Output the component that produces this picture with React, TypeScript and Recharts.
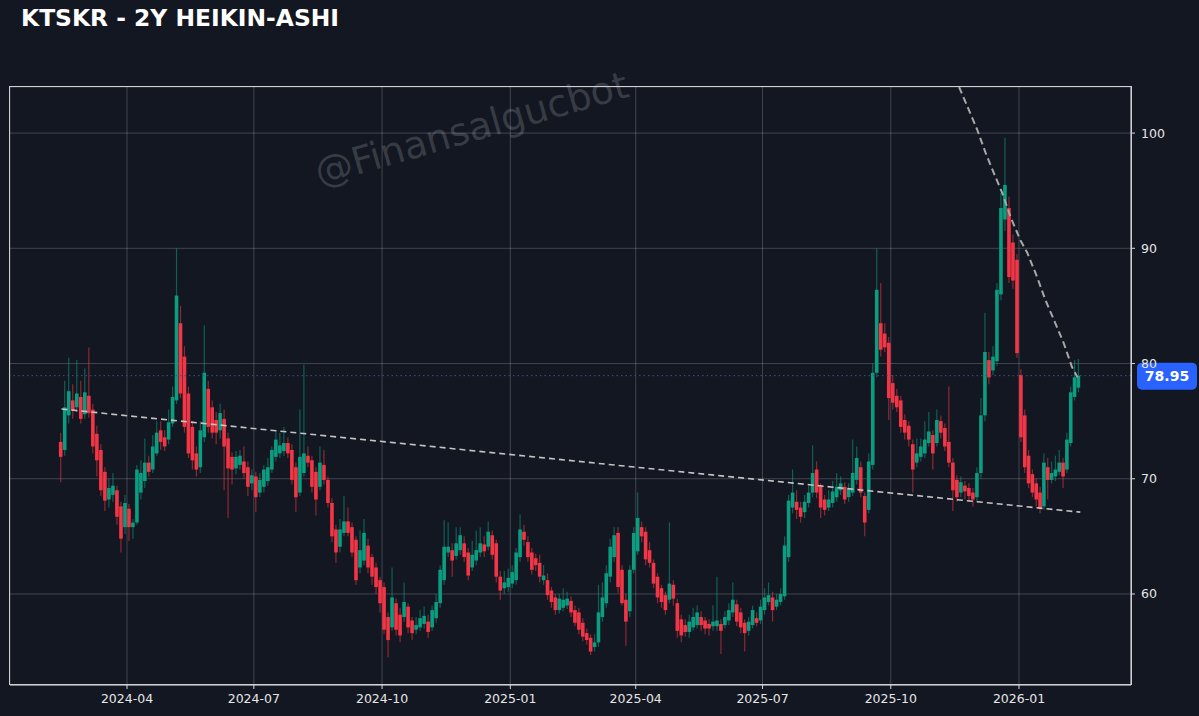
import React from "react";
import { ComposedChart, Bar, Line, XAxis, YAxis, CartesianGrid, ReferenceLine } from "recharts";

const BG = "#131722";
const UP = "#0b9d80";
const DOWN = "#f23645";

// Heikin-Ashi candles [open, high, low, close], one list per quarter
const q1_2024 = [
  [73.2, 74.0, 69.7, 71.9], [72.5, 78.5, 72.0, 76.2], [75.5, 80.5, 74.8, 77.6], [76.8, 78.2, 75.2, 75.9],
  [76.2, 80.3, 75.8, 77.4], [77.1, 78.5, 74.8, 75.2], [75.6, 79.6, 75.2, 77.5], [77.2, 81.4, 75.3, 75.7],
  [76.0, 76.5, 72.2, 72.8], [73.9, 74.6, 70.2, 71.6], [72.5, 73.0, 68.5, 69.0], [70.6, 71.0, 67.2, 68.1],
  [68.2, 70.0, 67.5, 69.2], [68.6, 70.5, 68.0, 69.4], [69.0, 69.4, 66.0, 66.7], [67.6, 68.0, 63.6, 64.8],
  [65.8, 68.6, 65.2, 67.9],
];
const q2_2024 = [
  [67.4, 67.8, 64.6, 65.8], [65.8, 66.5, 64.8, 66.2], [66.2, 71.2, 66.0, 70.8], [68.8, 71.6, 68.2, 70.5],
  [69.8, 73.5, 69.2, 71.4], [71.4, 72.0, 70.2, 70.6], [70.8, 73.8, 70.5, 72.8], [72.2, 75.0, 72.0, 74.0],
  [74.2, 75.0, 72.5, 73.2], [73.6, 74.2, 72.4, 72.8], [73.4, 76.0, 73.0, 74.9], [74.8, 78.0, 74.5, 77.1],
  [76.8, 90.0, 76.5, 85.9], [83.5, 85.0, 77.0, 77.4], [80.6, 81.5, 74.0, 74.5], [77.4, 78.0, 71.8, 72.2],
  [74.5, 75.0, 70.8, 71.6], [72.2, 72.8, 70.2, 70.8], [71.0, 75.0, 70.5, 74.2], [73.6, 83.3, 73.2, 79.2],
  [77.8, 78.5, 74.0, 74.5], [76.2, 76.8, 73.5, 74.0], [75.1, 75.8, 73.0, 74.0], [74.2, 76.5, 73.5, 75.7],
  [75.2, 76.0, 69.0, 72.8], [73.5, 74.0, 66.6, 70.9], [71.9, 72.3, 69.5, 70.8], [70.9, 72.4, 70.4, 71.9],
  [71.2, 72.5, 70.8, 72.0], [71.5, 72.8, 70.0, 70.5], [71.0, 71.5, 68.5, 69.3], [69.6, 70.8, 69.0, 70.3],
];
const q3_2024 = [
  [70.2, 70.6, 67.1, 68.4], [68.8, 70.5, 68.4, 69.9], [69.3, 71.2, 68.8, 70.8], [69.8, 71.8, 69.4, 71.0],
  [70.8, 72.8, 70.5, 72.5], [71.9, 74.2, 71.5, 73.4], [72.2, 74.0, 71.8, 72.9], [72.4, 74.5, 72.0, 73.1],
  [73.1, 73.6, 71.8, 72.2], [72.5, 73.0, 69.5, 69.9], [71.0, 71.4, 67.1, 68.4], [68.8, 76.0, 68.5, 71.9],
  [70.5, 79.9, 70.2, 72.2], [72.0, 72.8, 71.0, 71.4], [71.6, 72.0, 68.8, 69.3], [70.6, 71.0, 66.8, 68.2],
  [69.3, 72.8, 69.0, 71.4], [71.2, 72.5, 69.5, 69.9], [69.9, 70.2, 67.5, 67.9], [67.9, 68.3, 64.5, 65.0],
  [65.6, 66.0, 62.7, 63.6], [64.1, 66.5, 63.6, 65.6], [65.3, 68.5, 65.0, 66.3], [66.3, 67.5, 65.0, 65.3],
  [65.8, 66.2, 63.2, 63.6], [64.7, 65.0, 60.8, 61.2], [62.3, 65.5, 61.8, 63.8], [62.9, 66.5, 62.5, 65.3],
  [64.2, 64.8, 61.8, 62.3], [63.2, 63.5, 60.8, 61.5], [62.3, 62.7, 60.0, 60.6], [61.2, 61.5, 58.4, 59.2],
];
const q4_2024 = [
  [60.6, 61.0, 56.5, 56.9], [58.0, 58.4, 54.5, 56.0], [57.1, 62.3, 56.8, 59.7], [59.2, 59.6, 56.4, 56.9],
  [58.2, 58.8, 55.8, 56.4], [58.0, 61.0, 57.6, 59.3], [58.9, 59.2, 56.6, 57.1], [57.7, 58.0, 56.0, 56.6],
  [56.9, 58.0, 56.5, 57.3], [57.1, 58.6, 56.8, 57.9], [57.4, 58.9, 57.0, 58.1], [57.6, 58.2, 56.2, 56.7],
  [57.1, 59.0, 56.8, 58.6], [57.9, 60.0, 57.5, 59.3], [59.2, 62.5, 58.8, 62.1], [61.2, 66.4, 60.8, 64.1],
  [63.6, 66.2, 63.2, 64.1], [63.8, 64.4, 61.5, 62.9], [63.3, 65.8, 63.0, 64.4], [63.8, 65.8, 63.4, 65.1],
  [64.4, 65.0, 62.8, 63.2], [63.6, 64.0, 61.2, 61.6], [62.3, 64.6, 62.0, 63.4], [62.9, 65.5, 62.5, 63.8],
  [63.6, 65.8, 63.2, 64.4], [64.3, 65.0, 63.2, 63.7], [64.1, 66.3, 63.8, 65.4], [65.1, 65.5, 63.0, 63.4],
  [64.4, 64.7, 61.0, 61.5], [61.5, 62.0, 59.5, 60.3], [60.5, 62.0, 60.0, 61.0], [60.6, 62.2, 60.2, 61.4],
];
const q1_2025 = [
  [60.9, 62.5, 60.5, 61.9], [61.2, 64.0, 60.8, 63.6], [63.2, 66.9, 62.8, 65.6], [65.4, 66.0, 64.2, 64.7],
  [64.5, 65.0, 62.8, 63.2], [63.6, 64.0, 61.7, 62.1], [63.1, 63.5, 62.0, 62.5], [62.7, 63.4, 61.0, 61.5],
  [61.2, 62.5, 60.8, 61.6], [61.2, 61.8, 59.5, 59.9], [60.3, 60.6, 58.8, 59.3], [59.7, 60.0, 58.2, 58.6],
  [58.6, 60.0, 58.3, 59.6], [58.8, 60.5, 58.5, 59.5], [59.0, 60.2, 58.7, 59.6], [59.4, 59.8, 58.0, 58.4],
  [58.6, 59.0, 57.2, 57.5], [58.4, 58.8, 56.5, 56.9], [57.5, 57.9, 55.9, 56.3], [56.6, 57.0, 55.6, 56.0],
  [56.2, 56.5, 54.7, 55.0], [55.4, 56.5, 55.0, 55.8], [55.8, 60.8, 55.4, 58.4], [58.0, 61.0, 57.6, 59.7],
  [59.2, 62.5, 58.8, 61.8], [61.5, 64.8, 61.0, 64.1], [63.2, 65.8, 62.8, 65.1], [65.3, 65.8, 60.1, 60.6],
  [62.1, 62.5, 59.0, 59.2], [59.5, 60.0, 55.5, 57.6], [58.5, 62.5, 58.0, 62.1], [62.1, 65.8, 61.8, 65.3],
];
const q2_2025 = [
  [63.7, 68.8, 63.4, 66.6], [65.8, 66.3, 64.5, 65.0], [65.4, 65.8, 62.5, 63.0], [63.8, 64.5, 62.3, 62.7],
  [62.7, 63.0, 60.5, 60.9], [61.5, 61.8, 59.2, 59.7], [60.5, 60.8, 58.8, 59.3], [59.9, 60.2, 58.2, 58.6],
  [59.5, 66.2, 59.2, 60.9], [60.8, 61.2, 59.0, 59.6], [59.2, 59.6, 56.2, 56.8], [57.8, 58.2, 55.8, 56.4],
  [57.3, 57.8, 56.3, 56.7], [56.7, 58.2, 56.2, 57.6], [57.1, 58.8, 56.8, 58.0], [57.3, 59.0, 57.0, 58.4],
  [58.0, 58.5, 56.8, 57.3], [57.7, 58.0, 56.5, 57.0], [57.4, 57.8, 56.4, 57.0], [57.2, 59.0, 56.8, 57.6],
  [57.2, 61.5, 56.8, 57.7], [57.4, 57.8, 54.8, 56.8], [57.3, 58.5, 57.0, 58.0], [57.7, 59.2, 57.3, 58.6],
  [58.4, 61.0, 58.0, 59.5], [59.1, 59.5, 57.2, 57.6], [58.4, 58.8, 56.6, 57.1], [57.5, 57.8, 55.0, 56.6],
  [56.8, 58.0, 56.4, 57.6], [57.3, 59.0, 57.0, 58.6], [57.9, 58.4, 57.2, 57.5], [57.7, 59.5, 57.4, 58.9],
];
const q3_2025 = [
  [58.6, 60.5, 58.2, 59.7], [59.3, 61.0, 59.0, 59.9], [59.7, 60.2, 57.6, 58.6], [58.9, 60.0, 58.6, 59.5],
  [59.3, 60.5, 59.0, 60.0], [59.8, 65.0, 59.5, 64.2], [63.2, 68.6, 62.8, 68.1], [67.5, 70.8, 67.0, 68.8],
  [68.0, 69.0, 66.5, 67.3], [67.5, 68.0, 66.2, 66.7], [67.1, 68.6, 66.6, 68.0], [67.9, 69.5, 67.5, 68.8],
  [68.8, 72.9, 68.4, 70.5], [70.8, 71.5, 68.3, 68.8], [69.3, 69.6, 66.6, 67.5], [68.2, 68.6, 66.8, 67.3],
  [67.5, 69.0, 67.2, 68.2], [67.9, 69.8, 67.5, 68.9], [68.4, 70.5, 68.0, 69.3], [69.0, 70.2, 68.6, 69.6],
  [69.3, 69.7, 67.8, 68.2], [68.4, 69.6, 68.0, 69.2], [68.8, 73.4, 68.5, 70.5], [69.9, 72.8, 69.5, 71.8],
  [71.0, 71.5, 68.4, 68.8], [68.5, 68.8, 65.0, 66.2], [67.3, 72.2, 67.0, 71.5], [71.2, 80.0, 70.8, 79.2],
  [79.2, 90.0, 78.8, 86.4], [83.5, 87.0, 80.6, 81.2], [82.6, 83.5, 81.0, 81.4], [81.8, 82.3, 75.1, 77.0],
];
const q4_2025 = [
  [78.3, 79.0, 76.0, 76.6], [77.2, 77.8, 75.8, 76.2], [76.8, 77.2, 74.0, 74.5], [75.1, 75.6, 73.4, 74.0],
  [74.6, 75.0, 72.8, 73.4], [73.0, 73.4, 68.8, 70.8], [71.4, 73.5, 71.0, 72.2], [71.9, 73.5, 71.5, 72.8],
  [72.2, 75.0, 71.8, 73.4], [73.1, 75.8, 72.8, 74.1], [73.8, 74.2, 70.8, 72.2], [73.1, 76.0, 72.8, 75.1],
  [75.0, 75.5, 73.5, 74.0], [74.4, 74.8, 72.4, 72.8], [73.2, 78.0, 71.0, 71.4], [71.4, 71.8, 67.2, 69.0],
  [69.9, 70.3, 68.0, 68.4], [68.8, 70.2, 68.4, 69.7], [69.4, 69.8, 68.2, 68.9], [69.2, 69.6, 68.0, 68.5],
  [68.8, 69.2, 67.6, 68.2], [68.4, 71.0, 68.0, 70.5], [70.5, 77.0, 70.0, 75.5], [75.5, 84.4, 75.0, 81.0],
  [80.3, 81.0, 78.2, 78.8], [79.4, 81.5, 79.0, 80.6], [80.2, 87.0, 79.8, 86.4], [86.0, 94.8, 85.5, 93.5],
  [92.5, 99.6, 91.5, 95.5], [93.5, 94.5, 87.0, 87.5], [90.5, 91.2, 86.5, 87.2], [89.0, 89.5, 80.5, 80.9],
];
const q1_2026 = [
  [79.0, 79.5, 73.2, 73.6], [75.5, 76.0, 70.5, 71.0], [72.0, 72.5, 69.2, 69.6], [70.4, 70.8, 68.4, 68.8],
  [69.6, 70.0, 67.6, 68.2], [68.8, 69.3, 67.0, 67.4], [67.6, 72.2, 67.3, 71.4], [71.0, 71.8, 68.2, 69.9],
  [69.9, 71.5, 69.6, 70.5], [70.2, 72.0, 69.8, 70.8], [70.6, 72.5, 70.3, 71.4], [71.4, 71.8, 69.2, 70.2],
  [70.8, 74.0, 70.5, 73.4], [73.1, 78.0, 72.8, 77.5], [77.1, 80.3, 76.8, 78.8], [77.9, 80.4, 77.5, 78.95],
];

const segments = [
  { from: "2024-02-12", to: "2024-04-01", candles: q1_2024 },
  { from: "2024-04-01", to: "2024-07-01", candles: q2_2024 },
  { from: "2024-07-01", to: "2024-10-01", candles: q3_2024 },
  { from: "2024-10-01", to: "2025-01-01", candles: q4_2024 },
  { from: "2025-01-01", to: "2025-04-01", candles: q1_2025 },
  { from: "2025-04-01", to: "2025-07-01", candles: q2_2025 },
  { from: "2025-07-01", to: "2025-10-01", candles: q3_2025 },
  { from: "2025-10-01", to: "2026-01-01", candles: q4_2025 },
  { from: "2026-01-01", to: "2026-02-14", candles: q1_2026 },
];

const xTickLabels = ["2024-04", "2024-07", "2024-10", "2025-01", "2025-04", "2025-07", "2025-10", "2026-01"];
const yTicks = [60, 70, 80, 90, 100];
const lastPrice = 78.95;

// long support trendline
const supportDates = ["2024-02-14", "2026-02-14"];
const supportValues = [76.05, 67.1];

// steep descending resistance
const resistDates = [
  "2025-11-19", "2025-11-25", "2025-12-02", "2025-12-08", "2025-12-13", "2025-12-20", "2025-12-26",
  "2026-01-02", "2026-01-07", "2026-01-14", "2026-01-20", "2026-01-26", "2026-02-02", "2026-02-08", "2026-02-12",
];
const resistValues = [104.0, 102.3, 100.3, 98.3, 96.8, 94.8, 92.7, 90.7, 89.6, 87.5, 85.5, 83.8, 81.8, 79.7, 78.8];

const DAY = 86400000;
const ts = (s: string) => Date.parse(s.length === 7 ? s + "-01T00:00:00Z" : s + "T00:00:00Z");

const candles = segments.flatMap((seg) => {
  const a = ts(seg.from);
  const step = (ts(seg.to) - a) / seg.candles.length;
  return seg.candles.map(([o, h, l, c], k) => ({ t: a + (k + 0.5) * step, o, h, l, c, range: [l, h] }));
});

const supportData = supportDates.map((d, i) => ({ t: ts(d), v: supportValues[i] }));
const resistData = resistDates.map((d, i) => ({ t: ts(d), v: resistValues[i] }));
const xTicks = xTickLabels.map(ts);

const xMin = ts("2024-04-01") - 83.95 * DAY;
const xMax = ts("2026-01-01") + 80.36 * DAY;

const fmtMonth = (t: number) => {
  const d = new Date(t);
  return `${d.getUTCFullYear()}-${String(d.getUTCMonth() + 1).padStart(2, "0")}`;
};

const CandleShape = (props: any) => {
  const { x, y, width, height, payload } = props;
  if (!payload || x == null || y == null) return null;
  const { o, h, l, c } = payload;
  const top = Math.min(y, y + height);
  const bot = Math.max(y, y + height);
  const k = h > l ? (bot - top) / (h - l) : 0;
  const bTop = top + (h - Math.max(o, c)) * k;
  const bBot = top + (h - Math.min(o, c)) * k;
  const cx = x + width / 2;
  const col = c >= o ? UP : DOWN;
  return (
    <g>
      <line x1={cx} x2={cx} y1={top} y2={bot} stroke={col} strokeOpacity={0.55} strokeWidth={1.2} />
      <rect x={cx - 1.8} y={bTop} width={3.6} height={Math.max(1, bBot - bTop)} fill={col} />
    </g>
  );
};

const PriceTag = (props: any) => {
  const vb = props.viewBox;
  if (!vb) return null;
  const x = vb.x + vb.width + 6;
  const y = vb.y;
  return (
    <g>
      <rect x={x} y={y - 13} width={60} height={27} rx={5} fill="#2962ff" />
      <text x={x + 30} y={y + 5.5} textAnchor="middle" fill="#ffffff" fontSize={14} fontWeight="bold"
        fontFamily="DejaVu Sans, sans-serif">
        {lastPrice.toFixed(2)}
      </text>
    </g>
  );
};

export default function App() {
  return (
    <div style={{ position: "fixed", left: 0, top: 0, width: 1199, height: 716, background: BG, overflow: "hidden" }}>
      <div style={{ position: "absolute", left: 21, top: 5, color: "#ffffff", fontFamily: "DejaVu Sans, sans-serif",
        fontWeight: "bold", fontSize: 23.4, lineHeight: "27px", whiteSpace: "nowrap" }}>
        KTSKR - 2Y HEIKIN-ASHI
      </div>
      <svg width={1199} height={716} style={{ position: "absolute", left: 0, top: 0 }}>
        <text x={475} y={141} textAnchor="middle" transform="rotate(-16 475 141)" fontSize={38}
          fontFamily="DejaVu Sans, sans-serif" fill="#ffffff" fillOpacity={0.16}>
          @Finansalgucbot
        </text>
      </svg>
      <div style={{ position: "absolute", left: 0, top: 0 }}>
        <ComposedChart width={1199} height={716} data={candles} margin={{ top: 87, right: 8, bottom: 5, left: 10 }}>
          <CartesianGrid stroke="rgba(255,255,255,0.2)" strokeWidth={1} />
          <XAxis type="number" dataKey="t" domain={[xMin, xMax]} allowDataOverflow ticks={xTicks}
            tickFormatter={fmtMonth} height={26} tickSize={4} tickMargin={5}
            tick={{ fill: "#e6e6e6", fontSize: 12.5, fontFamily: "DejaVu Sans, sans-serif" }}
            axisLine={{ stroke: "#d8d8d8" }} tickLine={{ stroke: "#d8d8d8" }} />
          <YAxis orientation="right" type="number" domain={[52.1, 104.0]} allowDataOverflow ticks={yTicks}
            width={60} tickSize={4} tickMargin={6}
            tick={{ fill: "#e6e6e6", fontSize: 12.5, fontFamily: "DejaVu Sans, sans-serif", textAnchor: "start" }}
            axisLine={{ stroke: "#d8d8d8" }} tickLine={{ stroke: "#d8d8d8" }} />
          <ReferenceLine y={lastPrice} stroke="#3d4f86" strokeDasharray="1.5 3" label={<PriceTag />} />
          <Bar dataKey="range" barSize={3} shape={<CandleShape />} isAnimationActive={false} />
          <Line data={supportData} dataKey="v" type="linear" stroke="#c4c4c4" strokeWidth={1.6}
            strokeDasharray="6 4" dot={false} isAnimationActive={false} />
          <Line data={resistData} dataKey="v" type="linear" stroke="#a8a8a8" strokeWidth={2}
            strokeDasharray="7 4" dot={false} isAnimationActive={false} />
        </ComposedChart>
      </div>
      <div style={{ position: "absolute", left: 9, top: 86, width: 1121, height: 597, border: "1px solid #d0d0d0",
        pointerEvents: "none" }} />
    </div>
  );
}
